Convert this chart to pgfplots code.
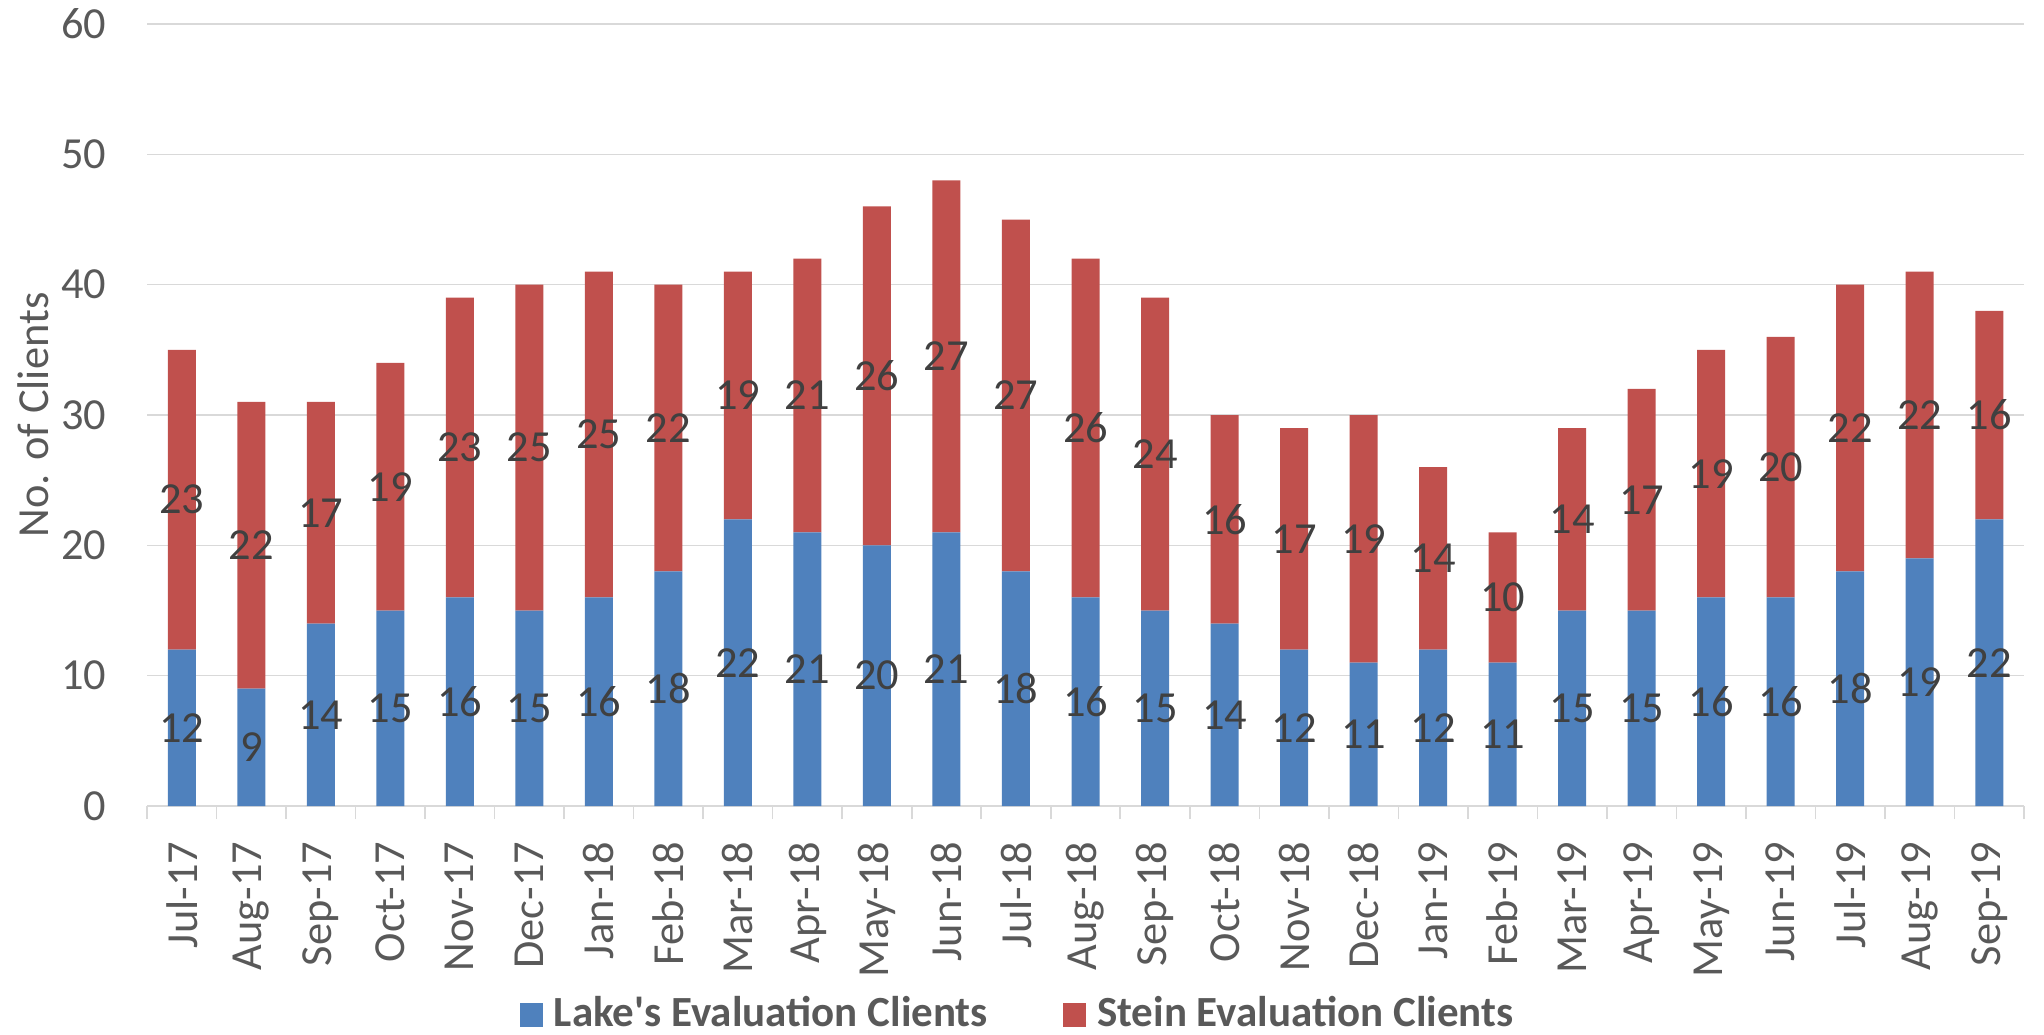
\documentclass[border=0pt]{standalone}
\usepackage{fontspec}
\setmainfont{Carlito}
\usepackage{pgfplots}
\pgfplotsset{compat=1.18}

\definecolor{lakeblue}{HTML}{4F81BD}
\definecolor{steinred}{HTML}{C0504D}
\definecolor{txtgray}{HTML}{595959}
\definecolor{lblgray}{HTML}{404040}
\definecolor{gridgray}{HTML}{D9D9D9}

\begin{document}
\fontsize{11.1bp}{13bp}\selectfont
\begin{tikzpicture}
% page = full chart area, axis box sits at the origin
\useasboundingbox (-36.75bp,-57.25bp) rectangle (474.25bp,201.5bp);
\begin{axis}[
  scale only axis,
  width=469.25bp,
  height=195.5bp,
  ybar stacked,
  bar width=7bp,
  xmin=-0.5, xmax=26.5,
  ymin=0, ymax=60,
  ytick={0,10,...,60},
  xtick={0,...,26},
  xticklabels={Jul-17,Aug-17,Sep-17,Oct-17,Nov-17,Dec-17,Jan-18,Feb-18,Mar-18,Apr-18,May-18,Jun-18,Jul-18,Aug-18,Sep-18,Oct-18,Nov-18,Dec-18,Jan-19,Feb-19,Mar-19,Apr-19,May-19,Jun-19,Jul-19,Aug-19,Sep-19},
  minor xtick={-0.5,0.5,...,26.5},
  major tick length=0pt,
  minor tick length=3.25bp,
  tick align=outside,
  minor tick style={gridgray, line width=0.4bp},
  axis lines*=left,
  x axis line style={gridgray, line width=0.5bp, -},
  y axis line style={draw=none},
  ymajorgrids,
  grid style={gridgray, line width=0.4bp},
  /pgf/number format/assume math mode=true,
  tick label style={font=\fontsize{11.1bp}{13bp}\selectfont, text=txtgray},
  xticklabel style={rotate=90, anchor=east, inner sep=0pt},
  xticklabel shift=8.75bp,
  yticklabel style={anchor=east, inner sep=0pt},
  yticklabel shift=10bp,
  ylabel={No. of Clients},
  ylabel style={at={(axis description cs:-0.0607,0.5)}, anchor=center, text=txtgray, font=\fontsize{11.1bp}{13bp}\selectfont},
  visualization depends on=rawy \as \rawy,
  nodes near coords={\pgfmathprintnumber{\rawy}},
  every node near coord/.append style={anchor=center, text=lblgray, font=\fontsize{11.1bp}{13bp}\selectfont, inner sep=0pt},
  legend columns=2,
  legend style={at={(0.4662,-0.2673)}, anchor=center, draw=none, fill=none,
    font=\fontsize{10.75bp}{12bp}\selectfont\bfseries, text=txtgray,
    /tikz/every even column/.append style={column sep=16bp},
    nodes={inner sep=2.75bp}},
  legend image code/.code={\fill[#1] (0bp,-2.9bp) rectangle (5.8bp,2.9bp);},
]
\addplot[fill=lakeblue, draw=none] coordinates {
  (0,12) (1,9) (2,14) (3,15) (4,16) (5,15) (6,16) (7,18) (8,22) (9,21)
  (10,20) (11,21) (12,18) (13,16) (14,15) (15,14) (16,12) (17,11) (18,12)
  (19,11) (20,15) (21,15) (22,16) (23,16) (24,18) (25,19) (26,22)};
\addplot[fill=steinred, draw=none] coordinates {
  (0,23) (1,22) (2,17) (3,19) (4,23) (5,25) (6,25) (7,22) (8,19) (9,21)
  (10,26) (11,27) (12,27) (13,26) (14,24) (15,16) (16,17) (17,19) (18,14)
  (19,10) (20,14) (21,17) (22,19) (23,20) (24,22) (25,22) (26,16)};
\legend{Lake\textquotesingle s Evaluation Clients,Stein Evaluation Clients}
\end{axis}
\end{tikzpicture}
\end{document}
